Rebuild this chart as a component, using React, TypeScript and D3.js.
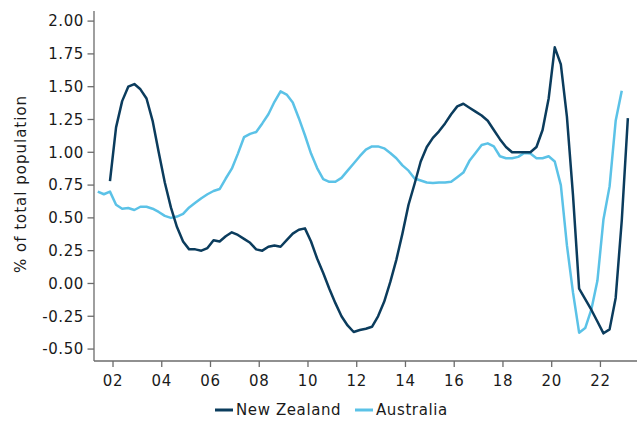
import React from "react";
import * as d3 from "d3";

const nzStart = 2001.875;
const auStart = 2001.375;
const step = 0.25;

const nzValues = [
  0.78, 1.19, 1.39, 1.5, 1.52, 1.48, 1.41, 1.24, 1.0, 0.77, 0.58, 0.43, 0.32, 0.26, 0.26, 0.25,
  0.27, 0.33, 0.32, 0.36, 0.39, 0.37, 0.34, 0.31, 0.26, 0.25, 0.28, 0.29, 0.28, 0.33, 0.38, 0.41,
  0.42, 0.32, 0.19, 0.08, -0.04, -0.15, -0.25, -0.32, -0.37, -0.355, -0.345, -0.33, -0.25, -0.14,
  0.01, 0.18, 0.38, 0.6, 0.76, 0.93, 1.04, 1.11, 1.16, 1.22, 1.29, 1.35, 1.37, 1.34, 1.31, 1.28,
  1.24, 1.17, 1.1, 1.04, 1.0, 1.0, 1.0, 1.0, 1.04, 1.17, 1.41, 1.8, 1.67, 1.27, 0.67, -0.04,
  -0.12, -0.2, -0.29, -0.38, -0.35, -0.11, 0.48, 1.26,
];

const auValues = [
  0.7, 0.68, 0.7, 0.6, 0.57, 0.575, 0.56, 0.585, 0.585, 0.57, 0.545, 0.515, 0.5, 0.51, 0.53, 0.58,
  0.615, 0.65, 0.68, 0.705, 0.72, 0.8, 0.875, 0.99, 1.115, 1.14, 1.155, 1.22, 1.29, 1.385, 1.465,
  1.44, 1.38, 1.26, 1.13, 0.99, 0.88, 0.795, 0.775, 0.775, 0.805, 0.86, 0.915, 0.97, 1.02, 1.045,
  1.045, 1.03, 0.995, 0.955, 0.9, 0.86, 0.8, 0.785, 0.77, 0.765, 0.77, 0.77, 0.775, 0.81, 0.845,
  0.935, 0.995, 1.055, 1.068, 1.045, 0.97, 0.955, 0.955, 0.965, 0.995, 0.99, 0.955, 0.955, 0.97,
  0.93, 0.75, 0.29, -0.07, -0.375, -0.34, -0.2, 0.02, 0.49, 0.74, 1.24, 1.47,
];

const xTickYears = [2002, 2004, 2006, 2008, 2010, 2012, 2014, 2016, 2018, 2020, 2022];
const xTickLabels = ["02", "04", "06", "08", "10", "12", "14", "16", "18", "20", "22"];
const yTicks = [-0.5, -0.25, 0, 0.25, 0.5, 0.75, 1.0, 1.25, 1.5, 1.75, 2.0];

const seriesNames = ["New Zealand", "Australia"];
const seriesColors = ["#0b3c5d", "#5bc2e7"];

const W = 639;
const H = 423;
const FONT = "'DejaVu Sans', Verdana, sans-serif";

export default function App() {
  const left = 94;
  const right = 637;
  const bottom = 361;
  const top = 11;

  const x = d3.scaleLinear().domain([2001.22, 2023.5]).range([left, right]);
  const y = d3.scaleLinear().domain([-0.591, 2.077]).range([bottom, top]);

  const nz = nzValues.map((v, i) => ({ t: nzStart + i * step, v }));
  const au = auValues.map((v, i) => ({ t: auStart + i * step, v }));

  const line = d3
    .line<{ t: number; v: number }>()
    .x((d) => x(d.t))
    .y((d) => y(d.v));

  const axisColor = "#6b6b6b";
  const textColor = "#1a1a1a";
  const fs = 15;
  const ls = 0.6;

  const legendY = 410;
  const legendItems = [
    { x0: 215, name: seriesNames[0], color: seriesColors[0] },
    { x0: 355, name: seriesNames[1], color: seriesColors[1] },
  ];

  return (
    <svg
      width={W}
      height={H}
      style={{ position: "absolute", left: 0, top: 0, background: "#fff" }}
      fontFamily={FONT}
    >
      {/* lines */}
      <path d={line(au) || ""} fill="none" stroke={seriesColors[1]} strokeWidth={2.5} strokeLinejoin="round" />
      <path d={line(nz) || ""} fill="none" stroke={seriesColors[0]} strokeWidth={2.5} strokeLinejoin="round" />

      {/* y axis */}
      <line x1={left} x2={left} y1={top} y2={bottom} stroke={axisColor} strokeWidth={1.3} />
      {yTicks.map((t) => (
        <g key={t} transform={`translate(0,${y(t)})`}>
          <line x1={left - 6.5} x2={left} stroke={axisColor} strokeWidth={1.3} />
          <text
            x={left - 10}
            dy="0.35em"
            textAnchor="end"
            fontSize={fs}
            fill={textColor}
            letterSpacing={ls}
          >
            {t.toFixed(2)}
          </text>
        </g>
      ))}

      {/* x axis */}
      <line x1={left} x2={right} y1={bottom} y2={bottom} stroke={axisColor} strokeWidth={1.3} />
      {xTickYears.map((t, i) => (
        <g key={t} transform={`translate(${x(t)},0)`}>
          <line y1={bottom} y2={bottom + 6} stroke={axisColor} strokeWidth={1.3} />
          <text
            y={bottom + 25}
            textAnchor="middle"
            fontSize={fs}
            fill={textColor}
            letterSpacing={ls}
          >
            {xTickLabels[i]}
          </text>
        </g>
      ))}

      {/* y title */}
      <text
        transform={`translate(26,184) rotate(-90)`}
        textAnchor="middle"
        fontSize={fs}
        fill={textColor}
        letterSpacing={ls + 0.4}
      >
        % of total population
      </text>

      {/* legend */}
      {legendItems.map((it) => (
        <g key={it.name}>
          <line x1={it.x0} x2={it.x0 + 18} y1={legendY} y2={legendY} stroke={it.color} strokeWidth={3} />
          <text x={it.x0 + 21} y={legendY} dy="0.35em" fontSize={fs} fill={textColor} letterSpacing={ls}>
            {it.name}
          </text>
        </g>
      ))}
    </svg>
  );
}
